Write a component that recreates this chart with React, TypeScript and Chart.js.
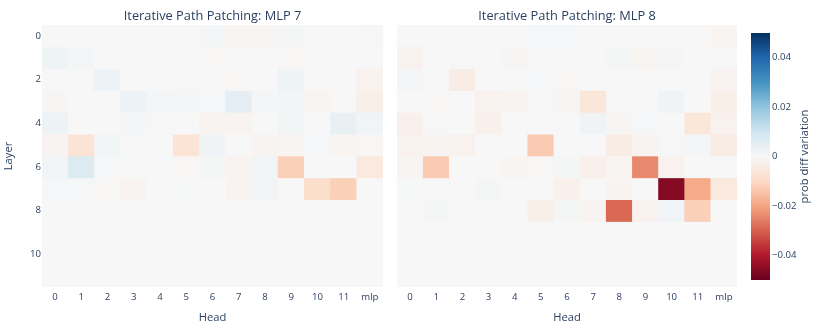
import React, { useEffect, useRef } from "react";
import { Chart, registerables } from "chart.js";

Chart.register(...registerables);

// ---------- data ----------
const heads = ["0", "1", "2", "3", "4", "5", "6", "7", "8", "9", "10", "11", "mlp"];
const layers = [0, 1, 2, 3, 4, 5, 6, 7, 8, 9, 10, 11];
const layerTickLabels = [0, 2, 4, 6, 8, 10];
const colorbarTicks = [-0.04, -0.02, 0, 0.02, 0.04];
const titles = ["Iterative Path Patching: MLP 7", "Iterative Path Patching: MLP 8"];

// prob diff variation, rows = layers 0..11, cols = heads 0..11 + mlp
const mlp7: number[][] = [
  [0, 0, 0, 0, 0, 0, 0.001, -0.001, -0.0008, 0.0008, 0, 0, 0.0003],
  [0.0025, 0.001, 0, 0, 0, 0, -0.0004, -0.0003, 0, -0.0005, 0, 0, 0],
  [0, 0, 0.003, 0, 0, 0.0003, 0, -0.0005, 0, 0.0025, 0, 0, -0.002],
  [-0.0007, 0, 0, 0.003, 0.001, 0.001, 0.0006, 0.005, 0.001, 0.0012, -0.001, 0, -0.003],
  [0.003, 0, 0, 0.001, 0.0003, 0, -0.0015, -0.0015, 0, 0.0012, 0, 0.004, 0.0018],
  [-0.0015, -0.007, 0.0012, 0, 0, -0.007, 0.002, 0, -0.0015, -0.001, 0.0005, -0.001, -0.0005],
  [0.0018, 0.007, 0.0004, 0, 0.0004, -0.0004, 0.0008, -0.0015, 0.0018, -0.012, 0, 0, -0.005],
  [0.0007, 0.0007, -0.0005, -0.0015, 0, 0.0002, 0, -0.0015, 0.0018, 0, -0.009, -0.012, 0],
  [0, 0, 0, 0, 0, 0, 0, 0, 0, 0, 0, 0, 0],
  [0, 0, 0, 0, 0, 0, 0, 0, 0, 0, 0, 0, 0],
  [0, 0, 0, 0, 0, 0, 0, 0, 0, 0, 0, 0, 0],
  [0, 0, 0, 0, 0, 0, 0, 0, 0, 0, 0, 0, 0],
];

const mlp8: number[][] = [
  [0, 0, 0, 0, 0, 0.0007, 0.0005, 0, 0, 0, 0, 0, -0.0012],
  [-0.002, 0, 0.0003, 0, -0.0008, 0, 0, 0, 0.0008, -0.0012, 0.001, 0, 0.0003],
  [0.001, 0, -0.004, 0, 0, 0.0005, -0.0005, 0, 0, 0, 0, 0, -0.0015],
  [0, -0.0005, 0, -0.002, -0.0015, 0, -0.0008, -0.006, 0.0003, 0, 0.002, 0, -0.003],
  [-0.0025, 0.0003, 0, -0.0025, 0, 0, 0, 0.002, -0.0008, 0.0005, 0, -0.006, -0.002],
  [-0.002, -0.0015, -0.002, 0, 0, -0.013, 0, 0, -0.004, -0.0015, 0.0003, 0.001, -0.004],
  [-0.001, -0.013, 0, 0, -0.001, -0.0005, 0.0008, -0.0025, -0.001, -0.024, -0.002, 0, 0],
  [0.0002, 0.0003, 0, 0.0008, 0, 0, -0.0025, 0, -0.0015, 0, -0.046, -0.019, -0.005],
  [0, 0.0008, 0, 0, 0, -0.003, 0.0008, -0.0015, -0.029, -0.002, 0.0015, -0.012, 0],
  [0, 0, 0, 0, 0, 0, 0, 0, 0, 0, 0, 0, 0],
  [0, 0, 0, 0, 0, 0, 0, 0, 0, 0, 0, 0, 0],
  [0, 0, 0, 0, 0, 0, 0, 0, 0, 0, 0, 0, 0],
];

// ---------- style ----------
const ZMIN = -0.05;
const ZMAX = 0.05;
const RDBU: number[][] = [
  [103, 0, 31], [178, 24, 43], [214, 96, 77], [244, 165, 130], [253, 219, 199],
  [247, 247, 247], [209, 229, 240], [146, 197, 222], [67, 147, 195], [33, 102, 172], [5, 48, 97],
];
const TEXT = "#2a3f5f";
const FONT = "'Open Sans', verdana, arial, sans-serif";

function colorAt(t: number): string {
  const c = Math.max(0, Math.min(1, t)) * (RDBU.length - 1);
  const i = Math.min(RDBU.length - 2, Math.floor(c));
  const f = c - i;
  const a = RDBU[i], b = RDBU[i + 1];
  const m = (k: number) => Math.round(a[k] + (b[k] - a[k]) * f);
  return `rgb(${m(0)},${m(1)},${m(2)})`;
}
function colorFor(v: number): string {
  return colorAt((v - ZMIN) / (ZMAX - ZMIN));
}
function fmtTick(v: number): string {
  if (Math.abs(v) < 1e-9) return "0";
  return (v < 0 ? "\u2212" : "") + Math.abs(v).toFixed(2);
}

const subplotTitle = {
  id: "subplotTitle",
  afterDraw(chart: any, _args: any, opts: any) {
    if (!opts || !opts.text) return;
    const { ctx, chartArea } = chart;
    ctx.save();
    ctx.fillStyle = TEXT;
    ctx.font = `12.8px ${FONT}`;
    ctx.textAlign = "center";
    ctx.textBaseline = "middle";
    ctx.fillText(opts.text, (chartArea.left + chartArea.right) / 2, opts.y);
    ctx.restore();
  },
};

const colorbarTitle = {
  id: "colorbarTitle",
  afterDraw(chart: any, _args: any, opts: any) {
    if (!opts || !opts.text) return;
    const { ctx, chartArea } = chart;
    ctx.save();
    ctx.fillStyle = TEXT;
    ctx.font = `11.2px ${FONT}`;
    ctx.textAlign = "center";
    ctx.textBaseline = "middle";
    ctx.translate(chartArea.right + opts.dx, (chartArea.top + chartArea.bottom) / 2);
    ctx.rotate(-Math.PI / 2);
    ctx.fillText(opts.text, 0, 0);
    ctx.restore();
  },
};

function heatmapConfig(title: string, values: number[][], showY: boolean, padding: any): any {
  const datasets = layers.map((layer) => ({
    label: `Layer ${layer}`,
    data: heads.map(() => [layer, layer + 1]),
    backgroundColor: values[layer].map(colorFor),
    borderWidth: 0,
    grouped: false,
    barPercentage: 1,
    categoryPercentage: 1,
  }));
  return {
    type: "bar",
    data: { labels: heads, datasets },
    plugins: [subplotTitle],
    options: {
      animation: false,
      responsive: false,
      maintainAspectRatio: false,
      events: [],
      layout: { padding },
      plugins: {
        legend: { display: false },
        tooltip: { enabled: false },
        title: { display: false },
        subplotTitle: { text: title, y: 16 },
      },
      scales: {
        x: {
          type: "category",
          grid: { display: false, drawTicks: false },
          border: { display: false },
          ticks: {
            color: TEXT,
            font: { family: FONT, size: 9.6 },
            padding: 5,
            autoSkip: false,
            maxRotation: 0,
          },
          title: {
            display: true,
            text: "Head",
            color: TEXT,
            font: { family: FONT, size: 11.2 },
            padding: { top: 0, bottom: 7 },
          },
          afterFit: (s: any) => { s.height = 45; },
        },
        y: {
          type: "linear",
          display: showY,
          min: 0,
          max: layers.length,
          reverse: true,
          grid: { display: false, drawTicks: false },
          border: { display: false },
          afterBuildTicks: (s: any) => {
            s.ticks = layerTickLabels.map((l) => ({ value: l + 0.5 }));
          },
          ticks: {
            color: TEXT,
            font: { family: FONT, size: 9.6 },
            padding: 1,
            callback: (v: number) => String(Math.round(v - 0.5)),
          },
          title: {
            display: true,
            text: "Layer",
            color: TEXT,
            font: { family: FONT, size: 11.2 },
            padding: { top: 2, bottom: 0 },
          },
          afterFit: (s: any) => { s.width = showY ? 42 : 0; },
        },
      },
    },
  };
}

function colorbarConfig(): any {
  return {
    type: "bar",
    data: {
      labels: [""],
      datasets: [
        {
          label: "prob diff variation",
          data: [[ZMIN, ZMAX]],
          borderWidth: 0,
          barPercentage: 1,
          categoryPercentage: 1,
          backgroundColor: (c: any) => {
            const { chart } = c;
            const area = chart.chartArea;
            if (!area) return "#f7f7f7";
            const g = chart.ctx.createLinearGradient(0, area.bottom, 0, area.top);
            RDBU.forEach((_, i) => g.addColorStop(i / (RDBU.length - 1), colorAt(i / (RDBU.length - 1))));
            return g;
          },
        },
      ],
    },
    plugins: [colorbarTitle],
    options: {
      animation: false,
      responsive: false,
      maintainAspectRatio: false,
      events: [],
      layout: { padding: { left: 11, top: 33, bottom: 52, right: 0 } },
      plugins: {
        legend: { display: false },
        tooltip: { enabled: false },
        colorbarTitle: { text: "prob diff variation", dx: 35 },
      },
      scales: {
        x: { display: false },
        y: {
          position: "right",
          min: ZMIN,
          max: ZMAX,
          grid: { display: false, drawTicks: false },
          border: { display: false },
          afterBuildTicks: (s: any) => {
            s.ticks = colorbarTicks.map((v) => ({ value: v }));
          },
          ticks: {
            color: TEXT,
            font: { family: FONT, size: 9.6 },
            padding: 2,
            callback: (v: number) => fmtTick(v),
          },
          afterFit: (s: any) => { s.width = 60; },
        },
      },
    },
  };
}

export default function App() {
  const leftRef = useRef<HTMLCanvasElement>(null);
  const rightRef = useRef<HTMLCanvasElement>(null);
  const barRef = useRef<HTMLCanvasElement>(null);

  useEffect(() => {
    const charts: Chart[] = [];
    if (leftRef.current)
      charts.push(new Chart(leftRef.current, heatmapConfig(titles[0], mlp7, true, { left: 0, right: 7, top: 25, bottom: 0 })));
    if (rightRef.current)
      charts.push(new Chart(rightRef.current, heatmapConfig(titles[1], mlp8, false, { left: 7, right: 3, top: 25, bottom: 0 })));
    if (barRef.current) charts.push(new Chart(barRef.current, colorbarConfig()));
    return () => charts.forEach((c) => c.destroy());
  }, []);

  return (
    <div style={{ position: "fixed", left: 0, top: 0, width: 830, height: 332, background: "#fff", overflow: "hidden" }}>
      <canvas ref={leftRef} width={390} height={332} style={{ position: "absolute", left: 0, top: 0, width: 390, height: 332 }} />
      <canvas ref={rightRef} width={350} height={332} style={{ position: "absolute", left: 390, top: 0, width: 350, height: 332 }} />
      <canvas ref={barRef} width={90} height={332} style={{ position: "absolute", left: 740, top: 0, width: 90, height: 332 }} />
    </div>
  );
}
